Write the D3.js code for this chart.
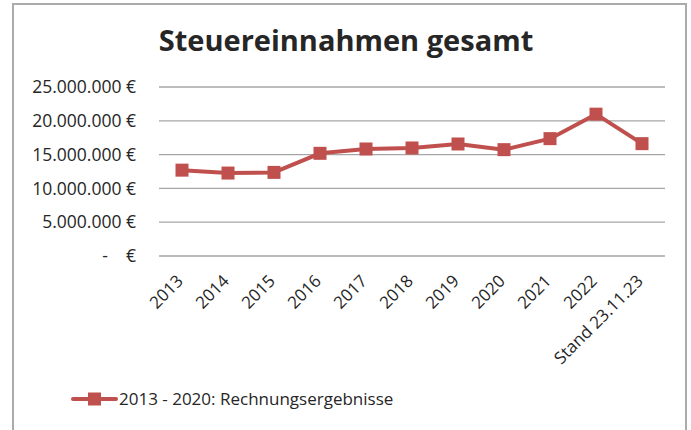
<!DOCTYPE html>
<html>
<head>
<meta charset="utf-8">
<script src="https://cdn.jsdelivr.net/npm/d3@7"></script>
<style>
  body { margin: 0; background: #fff; }
  text { font-family: "Open Sans", sans-serif; fill: #262626; }
</style>
</head>
<body>
<div class="chart"></div>
<script>
// data
var categories = ['2013', '2014', '2015', '2016', '2017', '2018', '2019', '2020', '2021', '2022', 'Stand 23.11.23'];
var values = [12700000, 12270000, 12370000, 15190000, 15830000, 15980000, 16570000, 15730000, 17360000, 20980000, 16620000];
var yTicks = [0, 5000000, 10000000, 15000000, 20000000, 25000000];
var seriesName = '2013 - 2020: Rechnungsergebnisse';
var chartTitle = 'Steuereinnahmen gesamt';

var svgWidth = 691, svgHeight = 430;
var margin = {top: 87, right: 26, bottom: 174, left: 159};
var width = svgWidth - margin.left - margin.right;
var height = svgHeight - margin.top - margin.bottom;
var red = '#C0504D';

var svg = d3.select('.chart')
    .append('svg')
    .attr('width', svgWidth)
    .attr('height', svgHeight);

// outer frame
svg.append('rect')
    .attr('x', 13).attr('y', 4)
    .attr('width', 673).attr('height', 440)
    .attr('fill', 'none')
    .attr('stroke', '#ababab')
    .attr('stroke-width', 2);

svg.append('text')
    .attr('x', 346).attr('y', 51)
    .attr('text-anchor', 'middle')
    .style('font-size', '29px')
    .style('font-weight', 700)
    .text(chartTitle);

var chart = svg.append('g')
    .attr('transform', 'translate(' + margin.left + ',' + margin.top + ')');

var x = d3.scaleBand().domain(categories).range([0, width]);
var y = d3.scaleLinear().domain([0, 25000000]).range([height, 0]);

// gridlines
chart.append('g')
    .selectAll('line')
    .data(yTicks)
    .enter()
    .append('line')
    .attr('x1', 0).attr('x2', width)
    .attr('y1', function(d) { return y(d); })
    .attr('y2', function(d) { return y(d); })
    .attr('stroke', '#a6a6a6')
    .attr('stroke-width', 1.3);

// y labels
var fmt = function(d) {
    if (d === 0) return '-    €';
    return d3.format(',')(d).replace(/,/g, '.') + ' €';
};
chart.append('g')
    .selectAll('text')
    .data(yTicks)
    .enter()
    .append('text')
    .attr('x', -23)
    .attr('y', function(d) { return y(d); })
    .attr('dy', '0.35em')
    .attr('text-anchor', 'end')
    .style('font-size', '17.5px')
    .style('white-space', 'pre')
    .text(fmt);

// x labels
chart.append('g')
    .selectAll('text')
    .data(categories)
    .enter()
    .append('text')
    .attr('transform', function(d) {
        return 'translate(' + (x(d) + x.bandwidth() / 2 - 2) + ',' + (height + 22) + ') rotate(-45)';
    })
    .attr('text-anchor', 'end')
    .attr('dy', '0.35em')
    .style('font-size', '17px')
    .text(function(d) { return d; });

// line
var line = d3.line()
    .x(function(d, i) { return x(categories[i]) + x.bandwidth() / 2; })
    .y(function(d) { return y(d); });

chart.append('path')
    .datum(values)
    .attr('d', line)
    .attr('fill', 'none')
    .attr('stroke', red)
    .attr('stroke-width', 4)
    .attr('stroke-linejoin', 'round');

var ms = 13;
chart.selectAll('.marker')
    .data(values)
    .enter()
    .append('rect')
    .attr('class', 'marker')
    .attr('x', function(d, i) { return x(categories[i]) + x.bandwidth() / 2 - ms / 2; })
    .attr('y', function(d) { return y(d) - ms / 2; })
    .attr('width', ms).attr('height', ms)
    .attr('fill', red);

// legend
var legend = svg.append('g').attr('transform', 'translate(73,399)');
legend.append('line')
    .attr('x1', 0).attr('x2', 43)
    .attr('y1', 0).attr('y2', 0)
    .attr('stroke', red).attr('stroke-width', 4)
    .attr('stroke-linecap', 'round');
legend.append('rect')
    .attr('x', 21.5 - ms / 2).attr('y', -ms / 2)
    .attr('width', ms).attr('height', ms)
    .attr('fill', red);
legend.append('text')
    .attr('x', 46).attr('y', 0)
    .attr('dy', '0.35em')
    .style('font-size', '17px')
    .text(seriesName);
</script>
</body>
</html>
